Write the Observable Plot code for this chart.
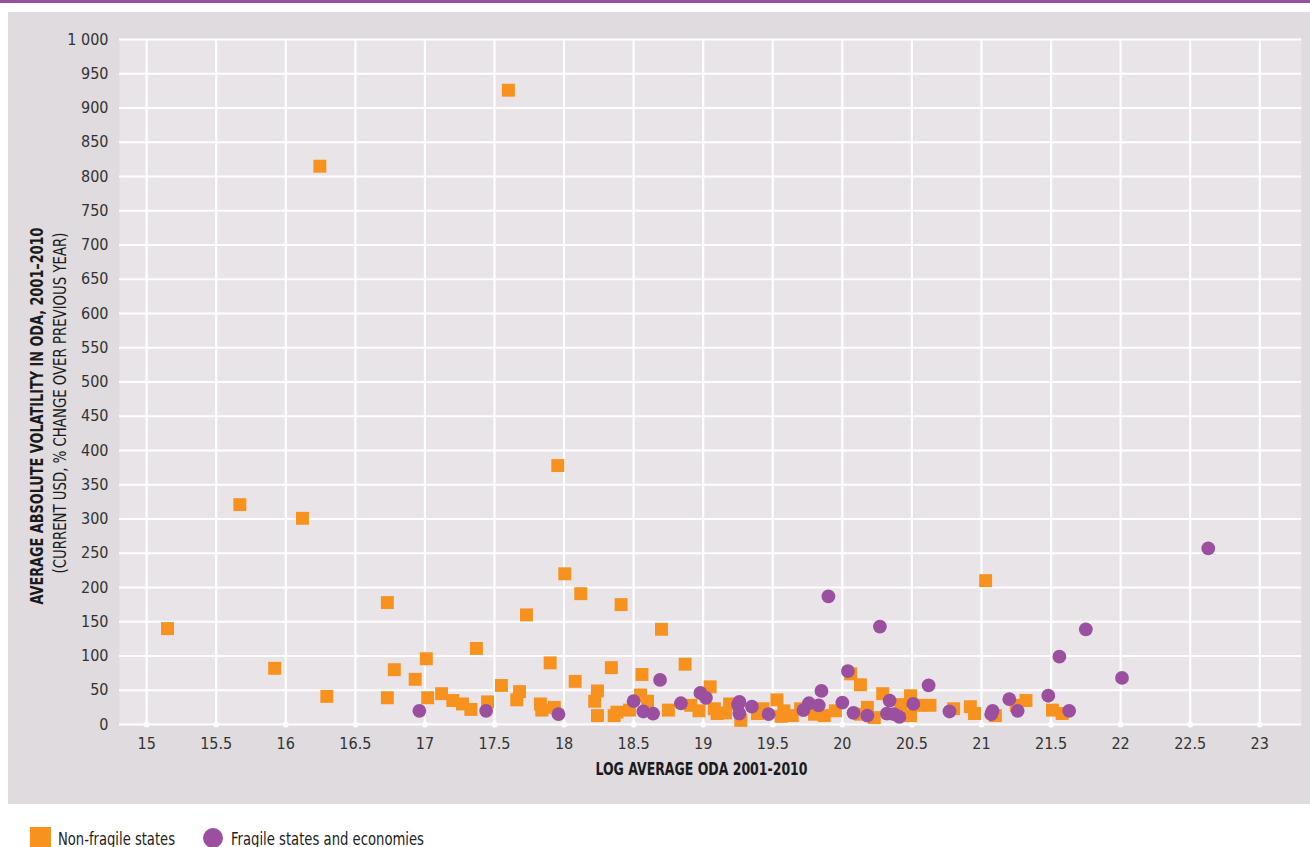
<!DOCTYPE html>
<html>
<head>
<meta charset="utf-8">
<script src="https://cdn.jsdelivr.net/npm/d3@7"></script>
<script src="https://cdn.jsdelivr.net/npm/@observablehq/plot@0.6"></script>
<style>
  html, body { margin: 0; padding: 0; background: #fff; }
  body { width: 1310px; height: 847px; overflow: hidden; position: relative;
         font-family: "DejaVu Sans Condensed", "Liberation Sans", sans-serif; color: #222; }
  #bar { position: absolute; left: 0; top: 0; width: 1310px; height: 3px; background: #9b4f9f; }
  #panel { position: absolute; left: 8px; top: 12px; width: 1302px; height: 792px; background: #dfdbdf; }
  #legend { position: absolute; left: 0; top: 820px; }
</style>
</head>
<body>
<div id="bar"></div>
<div id="panel"></div>
<svg id="legend" width="500" height="27" font-family="DejaVu Sans Condensed, Liberation Sans, sans-serif" font-size="17.5">
  <rect x="30" y="7" width="21" height="21" fill="#f7921e"></rect>
  <text x="58" y="24.5" fill="#222" textLength="117" lengthAdjust="spacingAndGlyphs">Non-fragile states</text>
  <circle cx="213" cy="18" r="10" fill="#9b4f9f"></circle>
  <text x="231" y="24.5" fill="#222" textLength="193" lengthAdjust="spacingAndGlyphs">Fragile states and economies</text>
</svg>
<script>
// ---- Data ----
const xTicks = [15, 15.5, 16, 16.5, 17, 17.5, 18, 18.5, 19, 19.5, 20, 20.5, 21, 21.5, 22, 22.5, 23];
const yTicks = [0, 50, 100, 150, 200, 250, 300, 350, 400, 450, 500, 550, 600, 650, 700, 750, 800, 850, 900, 950, 1000];

const nonFragileX = [15.15, 15.67, 16.12, 15.92, 16.245, 16.295, 16.73, 16.73, 16.78, 16.93, 17.01, 17.02, 17.60, 17.37, 17.955, 18.005, 18.12, 17.73, 18.41, 18.70, 21.03, 17.90, 18.08, 18.34, 18.87,
  17.12, 17.20, 17.27, 17.33, 17.45, 17.55, 17.68, 17.66, 17.83, 17.84, 17.93, 18.24, 18.22, 18.24, 18.36, 18.38, 18.56, 19.05, 18.55, 18.60, 18.47, 18.75, 18.91, 18.97, 19.08, 19.10, 19.16, 19.19, 19.27,
  19.39, 19.43, 19.53, 19.58, 19.56, 19.64, 19.70, 19.80, 19.87, 20.06, 20.13, 19.95, 20.18, 20.13, 20.23, 20.29, 20.42, 20.49, 20.49, 20.56, 20.63, 20.80, 20.92, 20.95, 21.10, 21.25, 21.32, 21.51, 21.58];
const nonFragileY = [140, 321, 301, 82, 815, 41, 178, 39, 80, 66, 96, 39, 926, 111, 378, 220, 191, 160, 175, 139, 210, 90, 63, 83, 88,
  45, 35, 30, 22, 33, 57, 48, 36, 30, 21, 25, 49, 34, 13, 13, 18, 73, 55, 43, 34, 21, 21, 28, 20, 23, 16, 17, 30, 6,
  16, 23, 36, 20, 12, 13, 23, 15, 13, 74, 58, 20, 25, 15, 10, 45, 29, 42, 13, 28, 28, 23, 26, 16, 13, 28, 35, 21, 16];

const fragileX = [22.63, 19.90, 20.27, 21.75, 21.56, 22.01, 20.62, 20.04, 18.69, 16.96, 17.44, 17.96, 18.50, 18.57, 18.64, 18.84, 18.98, 19.02, 19.25, 19.26, 19.26,
  19.35, 19.47, 19.72, 19.76, 19.83, 19.85, 20.00, 20.08, 20.18, 20.34, 20.32, 20.37, 20.41, 20.51, 20.77, 21.08, 21.07, 21.20, 21.26, 21.48, 21.63];
const fragileY = [257, 187, 143, 139, 99, 68, 57, 78, 65, 20, 20, 15, 34, 19, 16, 31, 46, 39, 29, 33, 16,
  26, 15, 21, 31, 28, 49, 32, 17, 13, 35, 16, 15, 11, 30, 19, 20, 15, 37, 20, 42, 20];

const yTitle1 = "AVERAGE ABSOLUTE VOLATILITY IN ODA, 2001\u20132010";
const yTitle2 = "(CURRENT USD, % CHANGE OVER PREVIOUS YEAR)";
const xTitle = "LOG AVERAGE ODA 2001-2010";

// ---- Build tables ----
const nonFragile = nonFragileX.map((x, i) => ({x, y: nonFragileY[i]}));
const fragile = fragileX.map((x, i) => ({x, y: fragileY[i]}));

const fontFam = '"DejaVu Sans Condensed", "Liberation Sans", sans-serif';
const fmtY = d => d3.format(",")(d).replace(/,/g, "\u00a0");

const chart = Plot.plot({
  width: 1302,
  height: 792,
  marginLeft: 111,
  marginRight: 9,
  marginTop: 27,
  marginBottom: 80,
  style: {background: "transparent", fontFamily: fontFam, fontSize: "16px", color: "#333", overflow: "visible"},
  x: {domain: [14.805, 23.3], ticks: xTicks, tickSize: 0, tickPadding: 13, tickFormat: d => String(d), label: null},
  y: {domain: [0, 1000], ticks: yTicks, tickSize: 0, tickPadding: 11, tickFormat: fmtY, label: null},
  marks: [
    Plot.frame({fill: "#e8e4e8", stroke: null}),
    Plot.ruleX(xTicks, {stroke: "#fff", strokeWidth: 2.2, strokeOpacity: 1}),
    Plot.ruleY(yTicks, {stroke: "#fff", strokeWidth: 2.2, strokeOpacity: 1}),
    Plot.dot(xTicks, {x: d => d, y: 0, r: 3, fill: "#fff", stroke: null}),
    Plot.dot(nonFragile, {x: "x", y: "y", symbol: "square", r: 7.3, fill: "#f7921e", stroke: null}),
    Plot.dot(fragile, {x: "x", y: "y", symbol: "circle", r: 6.9, fill: "#9b4f9f", stroke: null}),
    Plot.text([yTitle1], {frameAnchor: "left", textAnchor: "middle", lineAnchor: "middle", text: d => d, rotate: -90, dx: -82, dy: 34, fontWeight: "bold", fontSize: 17, fill: "#1a1a1a"}),
    Plot.text([yTitle2], {frameAnchor: "left", textAnchor: "middle", lineAnchor: "middle", text: d => d, rotate: -90, dx: -59, dy: 21, fontSize: 17, fill: "#1a1a1a"}),
    Plot.text([xTitle], {frameAnchor: "bottom", textAnchor: "middle", lineAnchor: "middle", text: d => d, dx: -9, dy: 45, fontWeight: "bold", fontSize: 17, fill: "#1a1a1a"})
  ]
});

// condense the title texts to the reference's narrow type width
const fit = {[yTitle1]: 377, [yTitle2]: 341, [xTitle]: 212};
d3.select(chart).selectAll("text").each(function() {
  const t = this.textContent;
  if (fit[t]) d3.select(this).attr("textLength", fit[t]).attr("lengthAdjust", "spacingAndGlyphs");
});
document.getElementById("panel").appendChild(chart);
</script>
</body>
</html>
